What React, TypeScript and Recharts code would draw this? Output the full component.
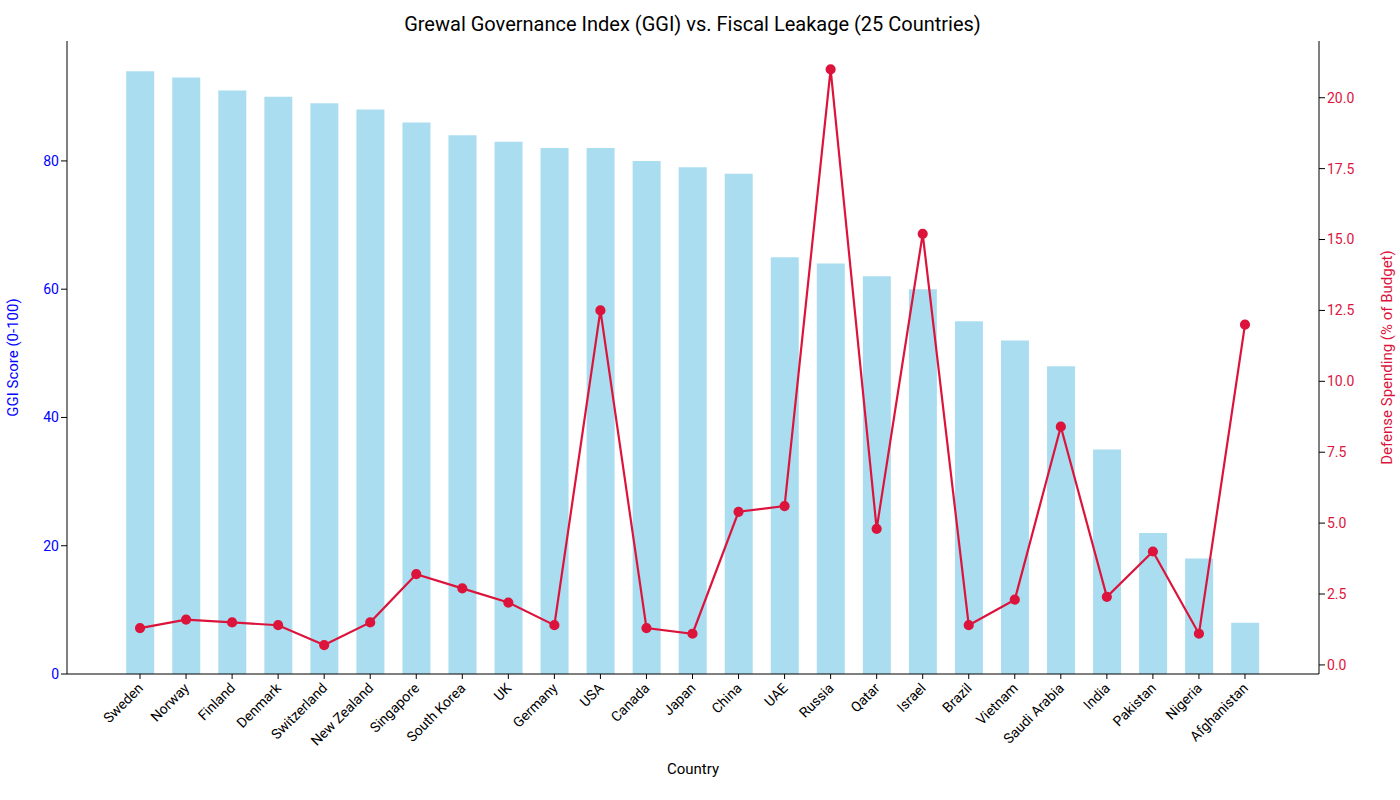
import { Bar, ComposedChart, Line, XAxis, YAxis } from 'recharts'

const countries = [
  'Sweden', 'Norway', 'Finland', 'Denmark', 'Switzerland', 'New Zealand', 'Singapore', 'South Korea',
  'UK', 'Germany', 'USA', 'Canada', 'Japan', 'China', 'UAE', 'Russia', 'Qatar', 'Israel', 'Brazil',
  'Vietnam', 'Saudi Arabia', 'India', 'Pakistan', 'Nigeria', 'Afghanistan',
]
const ggi = [94, 93, 91, 90, 89, 88, 86, 84, 83, 82, 82, 80, 79, 78, 65, 64, 62, 60, 55, 52, 48, 35, 22, 18, 8]
const defense = [1.3, 1.6, 1.5, 1.4, 0.7, 1.5, 3.2, 2.7, 2.2, 1.4, 12.5, 1.3, 1.1, 5.4, 5.6, 21.0, 4.8, 15.2, 1.4, 2.3, 8.4, 2.4, 4.0, 1.1, 12.0]
const leftTicks = [0, 20, 40, 60, 80]
const rightTicks = [0, 2.5, 5, 7.5, 10, 12.5, 15, 17.5, 20]

const data = countries.map((c, i) => ({ country: c, ggi: ggi[i], defense: defense[i] }))

const FONT = 'Roboto, "Open Sans", sans-serif'
const BLUE = '#0000ff'
const RED = '#dc143c'

// rotated category labels, anchored at the tick's end like matplotlib's ha="right"
function CountryTick({ x, y, payload }: any) {
  return (
    <text x={x + 4} y={y + 8} transform={`rotate(-45 ${x + 4} ${y + 8})`} textAnchor="end" fontSize={14} fill="#000" fontFamily={FONT}>
      {payload.value}
    </text>
  )
}

export default function App() {
  return (
    <div style={{ position: 'absolute', left: 0, top: 0, width: 1400, height: 800, background: '#fff', fontFamily: FONT }}>
      <div style={{ position: 'absolute', top: 12, width: 1385, textAlign: 'center', fontSize: 20 }}>
        Grewal Governance Index (GGI) vs. Fiscal Leakage (25 Countries)
      </div>
      <ComposedChart width={1400} height={800} data={data} margin={{ top: 41, right: 11, bottom: 26, left: 7 }} barCategoryGap="20%">
        <XAxis
          dataKey="country"
          interval={0}
          padding={{ left: 50, right: 51 }}
          height={100}
          stroke="#000"
          tickSize={5}
          tick={<CountryTick />}
          label={{ value: 'Country', position: 'insideBottom', offset: 0, fill: '#000', fontSize: 15 }}
        />
        <YAxis
          yAxisId="l"
          width={60}
          domain={[0, 98.7]}
          ticks={leftTicks}
          stroke="#000"
          tick={{ fill: BLUE, fontSize: 14 }}
          label={{ value: 'GGI Score (0-100)', angle: -90, position: 'insideLeft', offset: 6, fill: BLUE, fontSize: 15, style: { textAnchor: 'middle' } }}
        />
        <YAxis
          yAxisId="r"
          orientation="right"
          width={70}
          domain={[-0.32, 22]}
          ticks={rightTicks}
          stroke="#000"
          tickFormatter={(v: number) => v.toFixed(1)}
          tick={{ fill: RED, fontSize: 14 }}
          label={{ value: 'Defense Spending (% of Budget)', angle: -90, position: 'insideRight', offset: 2, fill: RED, fontSize: 15, style: { textAnchor: 'middle' } }}
        />
        <XAxis xAxisId="top" orientation="top" dataKey="country" hide={false} tick={false} tickLine={false} height={0} stroke="#000" />
        <Bar yAxisId="l" dataKey="ggi" fill="#87ceeb" fillOpacity={0.7} isAnimationActive={false} />
        <Line
          yAxisId="r"
          dataKey="defense"
          stroke={RED}
          strokeWidth={2.2}
          dot={{ r: 4, fill: RED, stroke: RED }}
          isAnimationActive={false}
        />
      </ComposedChart>
    </div>
  )
}
